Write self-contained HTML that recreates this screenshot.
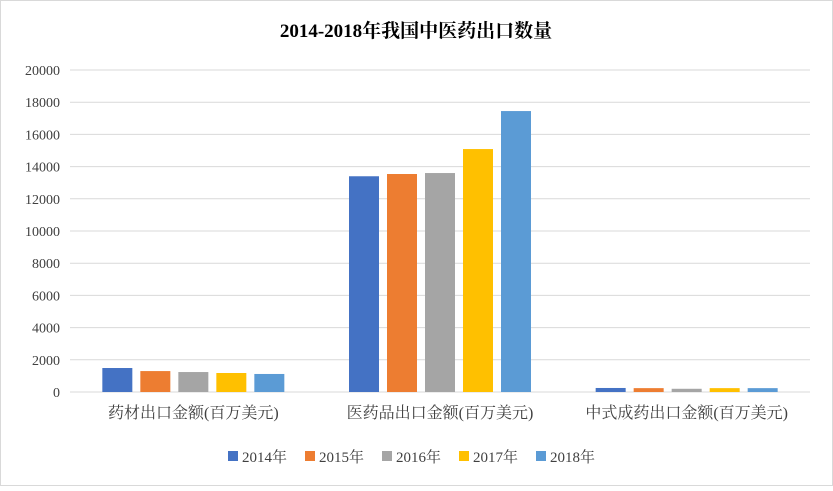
<!DOCTYPE html>
<html><head><meta charset="utf-8"><style>
body{margin:0;background:#fff;}
svg text{font-family:"Liberation Serif","Noto Serif CJK SC","Noto Sans CJK SC",serif;}
</style></head><body>
<svg width="833" height="486" xmlns="http://www.w3.org/2000/svg">
<rect x="0.5" y="0.5" width="832" height="485" fill="#fff" stroke="#d9d9d9"/>
<text x="416" y="37" text-anchor="middle" font-size="19" font-weight="bold" fill="#000">2014-2018年我国中医药出口数量</text>
<g id="grid"></g><g id="bars"></g><g id="legend"></g>
</svg>
<script>
const categories=["药材出口金额(百万美元)","医药品出口金额(百万美元)","中式成药出口金额(百万美元)"];
const seriesNames=["2014年","2015年","2016年","2017年","2018年"];
const s2014=[1490,13400,250];
const s2015=[1300,13540,240];
const s2016=[1240,13600,200];
const s2017=[1180,15090,240];
const s2018=[1120,17450,240];
const yTicks=[0,2000,4000,6000,8000,10000,12000,14000,16000,18000,20000];
const colors=["#4472c4","#ed7d31","#a5a5a5","#ffc000","#5b9bd5"];
const series=[s2014,s2015,s2016,s2017,s2018];
const NS="http://www.w3.org/2000/svg";
const X0=70,X1=810,Y0=392,Y1=70,YMAX=20000;
const y=v=>Y0-(v/YMAX)*(Y0-Y1);
const bw=(X1-X0)/categories.length;
const grid=document.getElementById('grid'),bars=document.getElementById('bars'),leg=document.getElementById('legend');
function mk(t,a,p){const e=document.createElementNS(NS,t);for(const k in a)e.setAttribute(k,a[k]);p.appendChild(e);return e;}
yTicks.forEach(v=>{
 const l=mk('line',{x1:X0,x2:X1,y1:y(v),y2:y(v),stroke:'#d9d9d9','stroke-width':1},grid);
 
 
 const t=mk('text',{x:60,y:y(v)+5,'text-anchor':'end','font-size':14,fill:'#404040'},grid);
 t.textContent=v;
 
 
});
const barW=30,gap=8,groupW=5*barW+4*gap;
categories.forEach((c,i)=>{
 const cx=X0+bw*(i+0.5);
 series.forEach((s,j)=>{
  const x=cx-groupW/2+j*(barW+gap);
  const r=mk('rect',{x:x,y:y(s[i]),width:barW,height:Y0-y(s[i]),fill:colors[j]},bars);
  
  
 });
 const t=mk('text',{x:cx,y:418,'text-anchor':'middle','font-size':16,fill:'#404040'},bars);
 t.textContent=c;
 
 
});
let lx=228;
seriesNames.forEach((n,j)=>{
 const r=mk('rect',{x:lx,y:451,width:10,height:10,fill:colors[j]},leg);
 
 
 const t=mk('text',{x:lx+14,y:462,'font-size':15,fill:'#404040'},leg);
 t.textContent=n;
 
 
 lx+=77;
});
</script>
</body></html>
